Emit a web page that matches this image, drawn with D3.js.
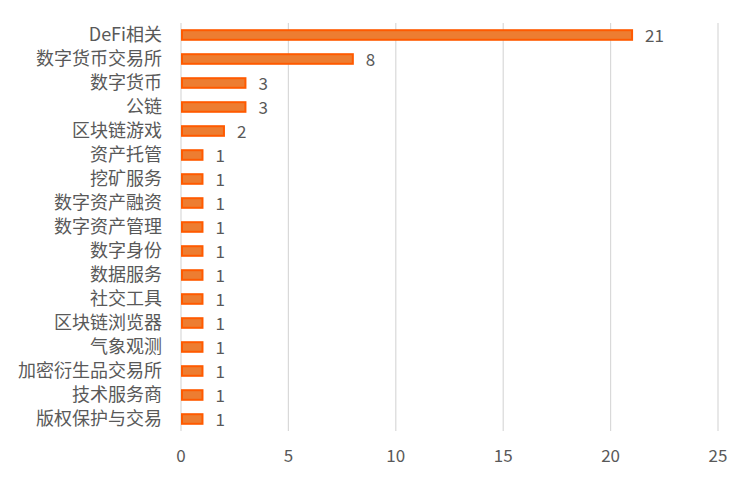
<!DOCTYPE html>
<html>
<head>
<meta charset="utf-8">
<script src="https://cdn.jsdelivr.net/npm/d3@7"></script>
<style>
body { margin: 0; background: #fff; }
text { font-family: "Noto Sans CJK SC", "Noto Sans", sans-serif; fill: #595959; }
</style>
</head>
<body>
<script>
var categories = ["DeFi相关", "数字货币交易所", "数字货币", "公链", "区块链游戏", "资产托管", "挖矿服务",
  "数字资产融资", "数字资产管理", "数字身份", "数据服务", "社交工具", "区块链浏览器", "气象观测",
  "加密衍生品交易所", "技术服务商", "版权保护与交易"];
var values = [21, 8, 3, 3, 2, 1, 1, 1, 1, 1, 1, 1, 1, 1, 1, 1, 1];
var xTicks = [0, 5, 10, 15, 20, 25];

var width = 750, height = 480;
var plotLeft = 181, plotRight = 718, plotTop = 23, plotBottom = 431;

var svg = d3.select("body").append("svg").attr("width", width).attr("height", height);

var x = d3.scaleLinear().domain([0, 25]).range([plotLeft, plotRight]);
var y = d3.scaleBand().domain(categories).range([plotTop, plotBottom]).paddingInner(0.6).paddingOuter(0.3);

// gridlines
svg.append("g").selectAll("line").data(xTicks).enter().append("line")
  .attr("x1", function(d){ return x(d); })
  .attr("x2", function(d){ return x(d); })
  .attr("y1", plotTop).attr("y2", plotBottom)
  .attr("stroke", "#d9d9d9").attr("stroke-width", 1.2);

// bars
svg.append("g").selectAll("rect").data(values).enter().append("rect")
  .attr("x", x(0) + 1)
  .attr("y", function(d, i){ return y(categories[i]); })
  .attr("width", function(d){ return x(d) - x(0) - 1; })
  .attr("height", y.bandwidth())
  .attr("fill", "#ED7D31")
  .attr("stroke", "#FF5A00")
  .attr("stroke-width", 2);

// value labels
svg.append("g").selectAll("text").data(values).enter().append("text")
  .attr("x", function(d){ return x(d) + 13; })
  .attr("y", function(d, i){ return y(categories[i]) + y.bandwidth() / 2 + 1; })
  .attr("dy", "0.35em")
  .attr("font-size", 17)
  .text(function(d){ return d; });

// category labels
svg.append("g").selectAll("text").data(categories).enter().append("text")
  .attr("x", plotLeft - 19)
  .attr("y", function(d){ return y(d) + y.bandwidth() / 2; })
  .attr("dy", "0.35em")
  .attr("text-anchor", "end")
  .attr("font-size", 18)
  .text(function(d){ return d; });

// x axis labels
svg.append("g").selectAll("text").data(xTicks).enter().append("text")
  .attr("x", function(d){ return x(d); })
  .attr("y", 456)
  .attr("dy", "0.35em")
  .attr("text-anchor", "middle")
  .attr("font-size", 17)
  .text(function(d){ return d; });
</script>
</body>
</html>
